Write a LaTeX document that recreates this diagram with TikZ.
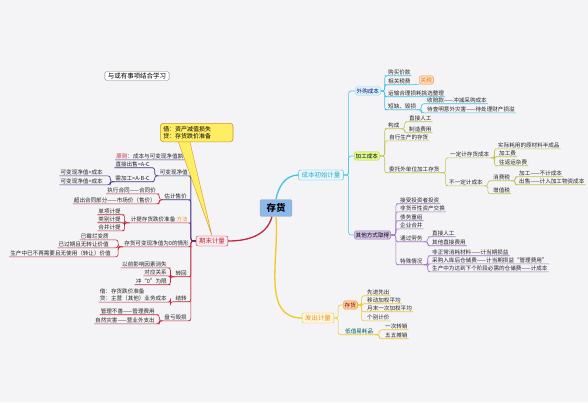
\documentclass[tikz,border=0pt]{standalone}
\usepackage{fontspec}
\setmainfont{Noto Sans CJK SC}
\usetikzlibrary{positioning}
\definecolor{fond}{RGB}{244,243,246}
\definecolor{cyb}{RGB}{64,196,230}
\definecolor{olv}{RGB}{196,196,80}
\definecolor{prp}{RGB}{160,120,200}
\definecolor{yel}{RGB}{240,200,40}
\definecolor{crim}{RGB}{190,40,60}
\definecolor{navy}{RGB}{60,50,140}
\definecolor{jaune}{RGB}{255,238,100}
\definecolor{brn}{RGB}{200,150,50}
\definecolor{bleu}{RGB}{140,185,235}
\definecolor{orng}{RGB}{240,150,40}
\newcommand{\petit}{\fontsize{5.6}{6.6}\selectfont}
\newcommand{\moyen}{\fontsize{6.5}{7.5}\selectfont}
\tikzset{
  rt/.style={font=\petit,inner sep=1pt,anchor=west,text=black!85},
  lt/.style={font=\petit,inner sep=1pt,anchor=east,text=black!85},
  bx/.style={draw=#1,rounded corners=1.5,inner xsep=1.5,inner ysep=1.5,font=\petit,anchor=west},
  gros/.style={draw=#1,rounded corners=2,inner xsep=3,inner ysep=2,font=\moyen},
  tige/.style={draw=#1,line width=.6,rounded corners=2.5},
}
\begin{document}
\begin{tikzpicture}[x=1bp,y=-1bp] % carte mentale : le stock

\fill[fond] (0,0) rectangle (588,402);
\useasboundingbox (0,0) rectangle (588,402);

\node[draw=gray,fill=white,rounded corners=1.5,font=\moyen,inner xsep=3,inner ysep=1.5] (tt) at (137,76) {与或有事项结合学习};

% centre et branches principales
\node[fill=bleu,draw=gray!70,rounded corners=2,font=\fontsize{9.5}{11}\selectfont\bfseries,minimum width=32,minimum height=17] (ch) at (276,208) {存货};
\node[gros=cyb,fill=cyb!12,text=cyb!85!black] (cb) at (321,175) {成本初始计量};
\node[gros=yel,fill=yel!15,text=yel!70!red] (fc) at (318,318) {发出计量};
\node[gros=crim,fill=crim!8,text=crim] (qm) at (212,241) {期末计量};

\draw[tige=cyb,line width=1.3] (ch.north) to[out=80,in=180] (cb.west);
\draw[tige=yel,line width=1.3] (ch.south) to[out=-85,in=180] (fc.west);
\draw[tige=crim,line width=1.3] (ch.-115) to[out=-105,in=0] (qm.east);

% initial
\node[bx=cyb!60,fill=cyb!15,text=blue!50!black] (wg) at (355,91) {外购成本};
\node[bx=olv,fill=lime!45] (jg) at (354,156) {加工成本};
\node[bx=prp,fill=prp!45] (qt) at (354,235) {其他方式取得};
\foreach \c in {wg,jg,qt}
	\draw[tige=cyb] (cb.east) -- ++(5,0) |- (\c.west);

\node[rt] (gm) at (387,72) {购买价款};
\node[rt] (sf) at (387,81) {相关税费};
\node[bx=orng,fill=orng!30,text=orng!80!red] (gs) at (419,80) {关税};
\node[rt] (ys) at (387,93) {运输合理损耗挑选整理};
\node[rt] (dq) at (387,106) {短缺、毁损};
\node[rt] (sp) at (426,100) {收赔款——冲减采购成本};
\node[rt] (dc) at (426,109) {待查明意外灾害——待处理财产损溢};
\foreach \c in {gm,sf,ys,dq}
	\draw[tige=cyb] (wg.east) -- ++(4,0) |- (\c.south west) -- (\c.south east);
\draw[tige=cyb] (sf.south east) -- (gs.south west);
\foreach \c in {sp,dc}
	\draw[tige=cyb] (dq.south east) -- ++(4,0) |- (\c.south west) -- (\c.south east);

\node[rt] (gc) at (387,125) {构成};
\node[rt] (rg) at (408,118) {直接人工};
\node[rt] (zy) at (408,129) {制造费用};
\node[rt] (zx) at (388,137) {自行生产的存货};
\node[rt] (wt) at (388,169) {委托外单位加工存货};
\node[rt] (yd) at (449,154) {一定计存货成本};
\node[rt] (sj) at (497,145) {实际耗用的原材料半成品};
\node[rt] (jf) at (498,153) {加工费};
\node[rt] (wf) at (498,162) {往返运杂费};
\node[rt] (bd) at (448,182) {不一定计成本};
\node[rt] (xf) at (492,177) {消费税};
\node[rt] (bj) at (518,173) {加工——不计成本};
\node[rt] (cs) at (518,181) {出售——计入加工物资成本};
\node[rt] (zs) at (492,190) {增值税};
\foreach \c in {gc,zx,wt}
	\draw[tige=olv] (jg.east) -- ++(5,0) |- (\c.south west) -- (\c.south east);
\foreach \c in {rg,zy}
	\draw[tige=olv] (gc.south east) -- ++(4,0) |- (\c.south west) -- (\c.south east);
\foreach \c in {yd,bd}
	\draw[tige=olv] (wt.south east) -- ++(5,0) |- (\c.south west) -- (\c.south east);
\foreach \c in {sj,jf,wf}
	\draw[tige=olv] (yd.south east) -- ++(4,0) |- (\c.south west) -- (\c.south east);
\foreach \c in {xf,zs}
	\draw[tige=olv] (bd.south east) -- ++(4,0) |- (\c.south west) -- (\c.south east);
\foreach \c in {bj,cs}
	\draw[tige=olv] (xf.south east) -- ++(4,0) |- (\c.south west) -- (\c.south east);

\node[rt] (js) at (399,200) {接受投资者投资};
\node[rt] (fh) at (399,208) {非货币性资产交换};
\node[rt] (zw) at (399,217) {债务重组};
\node[rt] (qy) at (399,225) {企业合并};
\node[rt] (tl) at (399,238) {通过劳务};
\node[rt] (zr) at (431,233) {直接人工};
\node[rt] (qz) at (431,242) {其他直接费用};
\node[rt] (ts) at (399,261) {特殊情况};
\node[rt] (fz) at (431,252) {非正常消耗材料——计当期损益};
\node[rt] (cg) at (431,260) {采购入库后仓储费——计当期损益“管理费用”};
\node[rt] (sc) at (431,268) {生产中为达到下个阶段必需的仓储费——计成本};
\foreach \c in {js,fh,zw,qy,tl,ts}
	\draw[tige=prp] (qt.east) -- ++(5,0) |- (\c.south west) -- (\c.south east);
\foreach \c in {zr,qz}
	\draw[tige=prp] (tl.south east) -- ++(4,0) |- (\c.south west) -- (\c.south east);
\foreach \c in {fz,cg,sc}
	\draw[tige=prp] (ts.south east) -- ++(4,0) |- (\c.south west) -- (\c.south east);

% sortie
\node[bx=orng,fill=orng!45,text=red!60!black] (ck) at (343,305) {存货};
\node[rt] (xx) at (366,292) {先进先出};
\node[rt] (yj) at (366,300) {移动加权平均};
\node[rt] (yc) at (366,308) {月末一次加权平均};
\node[rt] (gb) at (366,317) {个别计价};
\node[rt,text=teal!70!black] (dz) at (344,331) {低值易耗品};
\node[rt] (yx) at (384,326) {一次转销};
\node[rt] (ww) at (384,335) {五五摊销};
\draw[tige=yel] (fc.east) -- ++(4,0) |- (ck.west);
\draw[tige=yel] (fc.east) -- ++(4,0) |- (dz.south west) -- (dz.south east);
\foreach \c in {xx,yj,yc,gb}
	\draw[tige=yel] (ck.east) -- ++(4,0) |- (\c.south west) -- (\c.south east);
\foreach \c in {yx,ww}
	\draw[tige=yel] (dz.south east) -- ++(5,0) |- (\c.south west) -- (\c.south east);

% fin de periode
\node[lt] (yz) at (190,156) {{\color{crim}原则}：成本与可变现净值孰低};
\node[lt] (kb) at (189,172) {可变现净值};
\node[lt] (zc) at (151,164) {直接出售=A-C};
\node[lt] (xj) at (151,178) {需加工=A-B-C};
\node[lt] (dy) at (104,172) {可变现净值>成本};
\node[lt] (xy) at (104,181) {可变现净值<成本};
\node[lt] (gj) at (188,196) {估计售价};
\node[lt] (zh) at (157,190) {执行合同——合同价};
\node[lt] (cc) at (157,200) {超出合同部分——市场价（售价）};
\node[lt] (jt) at (189,219) {计提存货跌价准备 {\color{orng}方法}};
\node[lt] (dx) at (122,211) {单项计提};
\node[lt] (lb) at (122,219) {类别计提};
\node[lt] (hb) at (122,227) {合并计提};
\node[lt] (kl) at (190,243) {存货可变现净值为0的情形};
\node[lt] (ml) at (110,236) {已霉烂变质};
\node[lt] (gq) at (110,244) {已过期且无转让价值};
\node[lt] (bz) at (112,253) {生产中已不再需要且无使用（转让）价值};
\node[lt] (hui) at (188,273) {转回};
\node[lt] (yq) at (168,264) {以前影响因素消失};
\node[lt] (dg) at (168,272) {对应关系};
\node[lt] (cl) at (168,281) {冲“0”为限};
\node[lt] (jz) at (188,298) {结转};
\node[lt,align=left] (jd) at (168,295) {借：存货跌价准备\\贷：主营（其他）业务成本};
\node[lt] (pk) at (188,317) {盘亏毁损};
\node[lt] (gl) at (156,311) {管理不善——管理费用};
\node[lt] (zrz) at (156,320) {自然灾害——营业外支出};

\foreach \c in {jt,kl,hui,jz,pk}
	\draw[tige=crim] (qm.west) -- ++(-5,0) |- (\c.south east) -- (\c.south west);
\foreach \c in {yz,kb,gj}
	\draw[tige=navy] (qm.west) -- ++(-5,0) |- (\c.south east) -- (\c.south west);
\foreach \c in {zc,xj}
	\draw[tige=navy] (kb.south west) -- ++(-4,0) |- (\c.south east) -- (\c.south west);
\foreach \c in {dy,xy}
	\draw[tige=navy] (xj.south west) -- ++(-4,0) |- (\c.south east) -- (\c.south west);
\foreach \c in {zh,cc}
	\draw[tige=crim] (gj.south west) -- ++(-4,0) |- (\c.south east) -- (\c.south west);
\foreach \c in {dx,lb,hb}
	\draw[tige=crim] (jt.south west) -- ++(-5,0) |- (\c.south east) -- (\c.south west);
\foreach \c in {ml,gq,bz}
	\draw[tige=crim] (kl.south west) -- ++(-5,0) |- (\c.south east) -- (\c.south west);
\foreach \c in {yq,dg,cl}
	\draw[tige=crim] (hui.south west) -- ++(-4,0) |- (\c.south east) -- (\c.south west);
\draw[tige=crim] (jz.south west) -- ++(-4,0) |- (jd.south east) -- (jd.south west);
\foreach \c in {gl,zrz}
	\draw[tige=crim] (pk.south west) -- ++(-4,0) |- (\c.south east) -- (\c.south west);

% bulle
\coordinate (pa) at (177,138);
\coordinate (pb) at (189,138);
\filldraw[fill=jaune,draw=brn,line width=.4] (pa) -- (qm.north) -- (pb) -- cycle;
\node[draw=brn,fill=jaune,rounded corners=3,font=\fontsize{6}{7}\selectfont,align=left,text width=67,inner sep=3,anchor=north west,line width=.6] (jb) at (160,123) {借：资产减值损失\\贷：存货跌价准备};

\end{tikzpicture}
\end{document}
